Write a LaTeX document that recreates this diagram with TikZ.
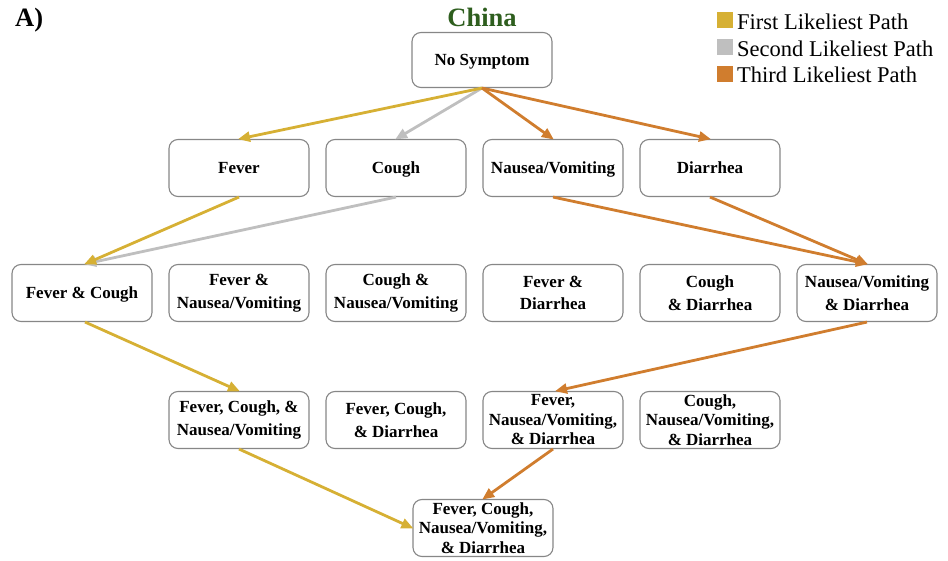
\documentclass[tikz,border=0pt]{standalone}
\usepackage{fontspec}
\setmainfont{Liberation Serif}
\usetikzlibrary{arrows.meta}
\definecolor{pgold}{RGB}{214,176,52}
\definecolor{pgray}{RGB}{191,191,191}
\definecolor{porange}{RGB}{208,125,46}
\definecolor{pgreen}{RGB}{46,94,30}
\definecolor{pborder}{RGB}{135,135,135}
\tikzset{
  box/.style={draw=pborder, line width=1.1pt, rounded corners=9pt, fill=white,
    minimum width=140pt, minimum height=57pt, align=center, inner sep=0pt,
    font=\bfseries\fontsize{17}{22.5}\selectfont},
  single/.style={text height=11.5pt, text depth=0pt},
  tight/.style={font=\bfseries\fontsize{17}{19.5}\selectfont},
  conn/.style={line width=2.8pt, -{Triangle[length=12pt,width=10pt]}, shorten >=-1pt},
  first/.style={conn, draw=pgold},
  second/.style={conn, draw=pgray},
  third/.style={conn, draw=porange},
  legsq/.style={minimum size=16pt, inner sep=0pt},
  legtxt/.style={anchor=base west, inner sep=0pt, font=\fontsize{22.5}{24}\selectfont}
}
\begin{document}
\begin{tikzpicture}[x=1pt,y=-1pt]
\useasboundingbox (0,0) rectangle (948,561);
\node[anchor=base west, inner sep=0pt, font=\bfseries\fontsize{26.5}{28}\selectfont] (lab) at (15,27) {A)};
\node[anchor=base, inner sep=0pt, font=\bfseries\fontsize{26.5}{28}\selectfont, text=pgreen] (title) at (482,27) {China};
% legend
\node[legsq, fill=pgold] (l1) at (725,20) {};
\node[legsq, fill=pgray] (l2) at (725,47.5) {};
\node[legsq, fill=porange] (l3) at (725,74.5) {};
\node[legtxt] (t1) at (737,29.5) {First Likeliest Path};
\node[legtxt] (t2) at (737,56.5) {Second Likeliest Path};
\node[legtxt] (t3) at (737,82.5) {Third Likeliest Path};
% nodes
\node[box, single, minimum height=55pt] (ns) at (482,60) {No Symptom};
\node[box, single] (fever) at (239,168) {Fever};
\node[box, single] (cough) at (396,168) {Cough};
\node[box, single] (nv) at (553,168) {Nausea/Vomiting};
\node[box, single] (dia) at (710,168) {Diarrhea};
\node[box, single] (fc) at (82,293) {Fever \& Cough};
\node[box] (fn) at (239,293) {Fever \&\\Nausea/Vomiting};
\node[box] (cn) at (396,293) {Cough \&\\Nausea/Vomiting};
\node[box] (fd) at (553,293) {Fever \&\\Diarrhea};
\node[box] (cd) at (710,293) {Cough\\\& Diarrhea};
\node[box] (nd) at (867,293) {Nausea/Vomiting\\\& Diarrhea};
\node[box] (fcn) at (239,420) {Fever, Cough, \&\\Nausea/Vomiting};
\node[box] (fcd) at (396,420) {Fever, Cough,\\\& Diarrhea};
\node[box, tight] (fnd) at (553,420) {Fever,\\Nausea/Vomiting,\\\& Diarrhea};
\node[box, tight] (cnd) at (710,420) {Cough,\\Nausea/Vomiting,\\\& Diarrhea};
\node[box, tight] (all) at (483,528) {Fever, Cough,\\Nausea/Vomiting,\\\& Diarrhea};
% connectors
\draw[second] (ns.south) -- (cough.north);
\draw[first] (ns.south) -- (fever.north);
\draw[third] (ns.south) -- (nv.north);
\draw[third] (ns.south) -- (dia.north);
\draw[second] (cough.south) -- ([xshift=3pt]fc.north);
\draw[first] (fever.south) -- ([xshift=3pt]fc.north);
\draw[third] (nv.south) -- (nd.north);
\draw[third] (dia.south) -- (nd.north);
\draw[first] ([xshift=3pt]fc.south) -- (fcn.north);
\draw[third] (nd.south) -- ([xshift=3pt]fnd.north);
\draw[first] (fcn.south) -- (all.west);
\draw[third] (fnd.south) -- (all.north);
\end{tikzpicture}
\end{document}
